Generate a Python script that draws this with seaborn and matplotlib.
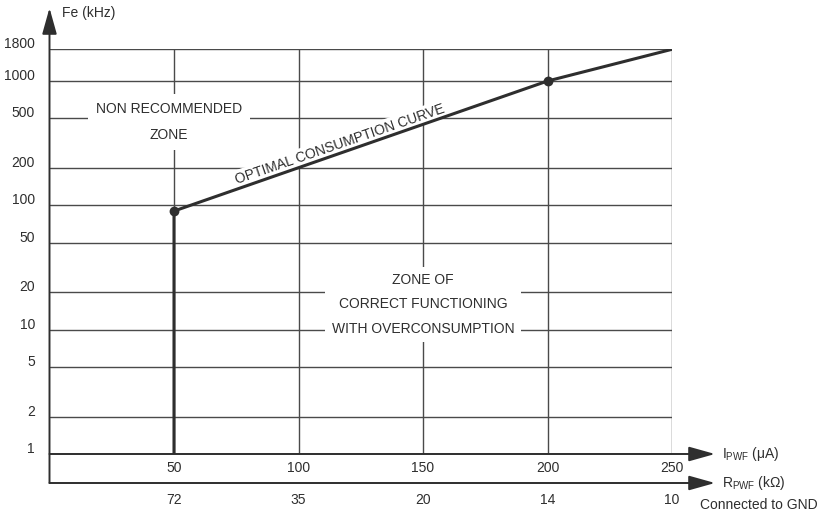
import matplotlib
matplotlib.use("Agg")
import matplotlib.pyplot as plt
import matplotlib.transforms as mtransforms
from matplotlib.ticker import NullLocator
import pandas as pd
import seaborn as sns

# Oscillator frequency Fe (kHz) against PWF current (µA)
curve_i = [50, 50, 200, 250]
curve_fe = [1, 90, 1000, 1800]
marked_i = [50, 200]
marked_fe = [90, 1000]

i_ticks = [50, 100, 150, 200, 250]
i_labels = ["50", "100", "150", "200", "250"]
r_labels = ["72", "35", "20", "14", "10"]
fe_ticks = [1, 2, 5, 10, 20, 50, 100, 200, 500, 1000, 1800]
fe_labels = ["1", "2", "5", "10", "20", "50", "100", "200", "500", "1000", "1800"]

sns.set_theme(style="white")
plt.rcParams["font.family"] = ["Liberation Sans", "DejaVu Sans"]
plt.rcParams["mathtext.fontset"] = "custom"
plt.rcParams["mathtext.rm"] = "Liberation Sans"
plt.rcParams["mathtext.it"] = "Liberation Sans:italic"
plt.rcParams["mathtext.bf"] = "Liberation Sans:bold"

ink = "#2e2e2e"
grid_col = "#4a4a4a"
fs = 10

fig = plt.figure(figsize=(8.27, 5.14), dpi=100)
W, H = 827, 514
x0, x1, yb, yt = 49.5, 672.0, 454.0, 49.3
ax = fig.add_axes([x0 / W, 1 - yb / H, (x1 - x0) / W, (yb - yt) / H])

df = pd.DataFrame({"i": curve_i, "fe": curve_fe})
sns.lineplot(data=df, x="i", y="fe", sort=False, estimator=None,
             color=ink, lw=2.2, ax=ax, zorder=4)
sns.scatterplot(x=marked_i, y=marked_fe, s=50, color=ink, edgecolor=ink,
                linewidth=0, ax=ax, zorder=5)

ax.set_yscale("log")
ax.set_xlim(0, 250)
ax.set_ylim(1, 1800)
ax.set_xlabel("")
ax.set_ylabel("")
ax.set_xticks(i_ticks, labels=i_labels)
ax.set_yticks(fe_ticks, labels=fe_labels)
ax.yaxis.set_minor_locator(NullLocator())
ax.set_axisbelow(True)
ax.grid(True, which="major", color=grid_col, lw=1.0)
for sp in ax.spines.values():
    sp.set_visible(False)
ax.tick_params(axis="both", length=0, labelsize=fs, labelcolor=ink)
ax.tick_params(axis="x", pad=5)
ax.tick_params(axis="y", pad=10.5)

# frequency labels sit just above their grid lines
lift = mtransforms.ScaledTranslation(0, 6.5 / 100, fig.dpi_scale_trans)
for lab in ax.get_yticklabels():
    lab.set_transform(lab.get_transform() + lift)

# resistor scale under the current scale
r_off = (yb - 483.0) / (yb - yt)
sec = ax.secondary_xaxis(r_off)
sec.set_xticks(i_ticks, labels=r_labels)
sec.tick_params(length=0, pad=7, labelsize=fs, labelcolor=ink)
for sp in sec.spines.values():
    sp.set_visible(False)

# axis arrows
tip_x = (715.0 - x0) / (x1 - x0)
tip_y = (yb - 8.0) / (yb - yt)
arrow = dict(arrowstyle="-|>,head_length=1.0,head_width=0.28", color=ink,
             lw=1.4, mutation_scale=16, shrinkA=0, shrinkB=0)
for y in (0.0, r_off):
    ax.annotate("", xy=(tip_x, y), xytext=(0, y), xycoords="axes fraction",
                textcoords="axes fraction", arrowprops=arrow, zorder=6,
                annotation_clip=False)
ax.annotate("", xy=(0, tip_y), xytext=(0, r_off), xycoords="axes fraction",
            textcoords="axes fraction", arrowprops=arrow, zorder=6,
            annotation_clip=False)

# axis titles
ax.text((62 - x0) / (x1 - x0), (yb - 13) / (yb - yt), "Fe (kHz)",
        transform=ax.transAxes, ha="left", va="center", fontsize=fs, color=ink)
ax.text((722 - x0) / (x1 - x0), 0.0, r"I$_{\mathrm{PWF}}$ (μA)",
        transform=ax.transAxes, ha="left", va="center", fontsize=fs, color=ink)
ax.text((722 - x0) / (x1 - x0), r_off, r"R$_{\mathrm{PWF}}$ (kΩ)",
        transform=ax.transAxes, ha="left", va="center", fontsize=fs, color=ink)
ax.text((700 - x0) / (x1 - x0), (yb - 505) / (yb - yt), "Connected to GND",
        transform=ax.transAxes, ha="left", va="center", fontsize=fs, color=ink)

# zone annotations
box = dict(boxstyle="square,pad=0.55", fc="white", ec="none")
ax.text(48, 469, "NON RECOMMENDED\nZONE", ha="center", va="center",
        fontsize=fs, color=ink, linespacing=2.15, bbox=box, zorder=3)
ax.text(150, 16, "ZONE OF\nCORRECT FUNCTIONING\nWITH OVERCONSUMPTION",
        ha="center", va="center", fontsize=fs, color=ink, linespacing=1.95,
        bbox=dict(boxstyle="square,pad=0.45", fc="white", ec="none"), zorder=3)
ax.text(116.7, 312, "OPTIMAL CONSUMPTION CURVE", ha="center", va="center",
        rotation=19, rotation_mode="anchor", fontsize=fs, color=ink,
        bbox=dict(boxstyle="square,pad=0.15", fc="white", ec="none"), zorder=3)

fig.savefig("out.png", dpi=100, facecolor="white")
